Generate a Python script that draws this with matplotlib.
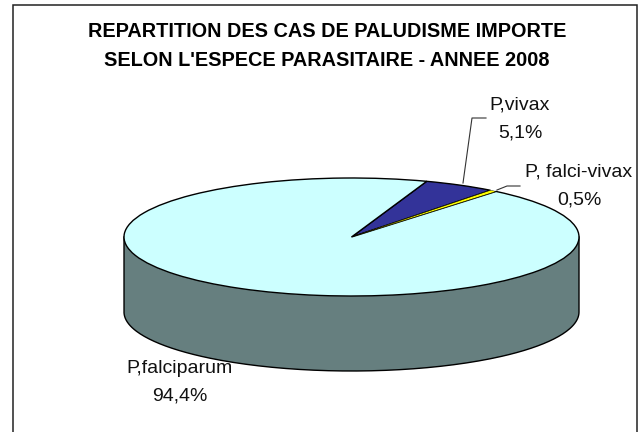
"""Pie chart of imported malaria cases by parasite species, 2008."""
import numpy as np
import matplotlib
matplotlib.use("Agg")
import matplotlib.pyplot as plt

plt.rcParams["font.family"] = ["Liberation Sans", "DejaVu Sans"]

W, H = 644, 432
names = ["P,vivax", "P, falci-vivax", "P,falciparum"]
shares = [5.1, 0.5, 94.4]
share_labels = ["5,1%", "0,5%", "94,4%"]
colors = ["#333399", "#FFFF00", "#CCFFFF"]
side_color = "#667F7F"
title = "REPARTITION DES CAS DE PALUDISME IMPORTE\nSELON L'ESPECE PARASITAIRE - ANNEE 2008"

CX, CY, RX, RY, DEPTH = 351.5, 237, 227.5, 59, 75

fig = plt.figure(figsize=(W / 100, H / 100), dpi=100)

# overlay in pixel coords: frame, title, labels
bg = fig.add_axes([0, 0, 1, 1])
bg.set_xlim(0, W); bg.set_ylim(H, 0); bg.axis("off")
# bottom edge of the frame is cut off in the original
bg.add_patch(plt.Rectangle((13.5, 5), 624, 440, fc="white", ec="#222222", lw=1.1))

# pie axes stretched so the circle becomes the flattened ellipse
d = DEPTH / RY
ax = fig.add_axes([(CX - RX) / W, 1 - (CY + RY + DEPTH) / H, 2 * RX / W, (2 * RY + DEPTH) / H])
wedges, _ = ax.pie(shares, colors=colors, startangle=70.7, counterclock=False, radius=1,
                   wedgeprops=dict(edgecolor="black", linewidth=1.0))
# the thin slice would vanish under a full-weight outline
wedges[1].set_linewidth(0.3)
wedges[1].set_zorder(wedges[2].get_zorder() + 1)
t = np.linspace(np.pi, 2 * np.pi, 200)
ax.fill_between(np.cos(t), np.sin(t), np.sin(t) - d, color=side_color, ec="none", zorder=0)
wall_x = np.r_[-1, np.cos(t), 1]
wall_y = np.r_[0, np.sin(t) - d, 0]
ax.plot(wall_x, wall_y, color="black", lw=1.0, zorder=0.5)
ax.set_aspect("auto")
ax.set_xlim(-1, 1); ax.set_ylim(-1 - d, 1)
for a in ax.get_children():
    a.set_clip_on(False)

over = fig.add_axes([0, 0, 1, 1])
over.set_xlim(0, W); over.set_ylim(H, 0); over.axis("off"); over.patch.set_alpha(0)
over.text(327, 46, title, ha="center", va="center", fontsize=14.3, fontweight="bold",
          color="black", linespacing=1.67)
over.text(520, 119, f"{names[0]}\n{share_labels[0]}", ha="center", va="center",
          fontsize=14, color="#111111", linespacing=1.8)
over.text(579, 186, f"{names[1]}\n{share_labels[1]}", ha="center", va="center",
          fontsize=14, color="#111111", linespacing=1.8)
over.text(180, 382.5, f"{names[2]}\n{share_labels[2]}", ha="center", va="center",
          fontsize=14, color="#111111", linespacing=1.8)
# leader lines
over.plot([463, 472, 486], [183, 118, 118], color="#333333", lw=0.8)
over.plot([497, 507, 520], [190, 186, 186], color="#333333", lw=0.8)

fig.savefig("out.png", dpi=100)
